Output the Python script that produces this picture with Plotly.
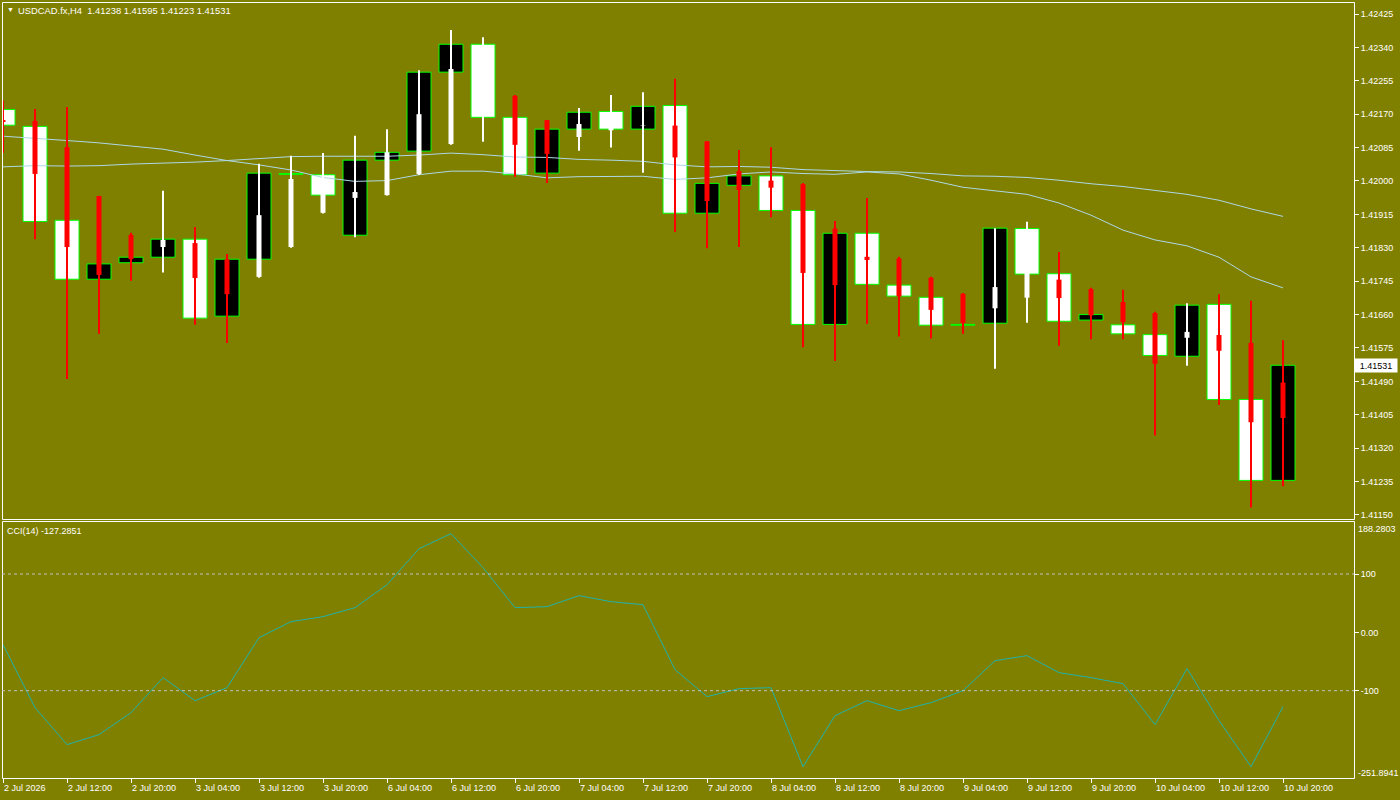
import plotly.graph_objects as go

# ---------------- data ----------------
times = ["2 Jul 04:00", "2 Jul 08:00", "2 Jul 12:00", "2 Jul 16:00", "2 Jul 20:00",
         "3 Jul 00:00", "3 Jul 04:00", "3 Jul 08:00", "3 Jul 12:00", "3 Jul 16:00",
         "3 Jul 20:00", "6 Jul 00:00", "6 Jul 04:00", "6 Jul 08:00", "6 Jul 12:00",
         "6 Jul 16:00", "6 Jul 20:00", "7 Jul 00:00", "7 Jul 04:00", "7 Jul 08:00",
         "7 Jul 12:00", "7 Jul 16:00", "7 Jul 20:00", "8 Jul 00:00", "8 Jul 04:00",
         "8 Jul 08:00", "8 Jul 12:00", "8 Jul 16:00", "8 Jul 20:00", "9 Jul 00:00",
         "9 Jul 04:00", "9 Jul 08:00", "9 Jul 12:00", "9 Jul 16:00", "9 Jul 20:00",
         "10 Jul 00:00", "10 Jul 04:00", "10 Jul 08:00", "10 Jul 12:00", "10 Jul 16:00",
         "10 Jul 20:00"]

open_ = [1.42182, 1.42139, 1.41900, 1.41750, 1.41792, 1.41806, 1.41852, 1.41656, 1.41801, 1.42018,
         1.42016, 1.41862, 1.42053, 1.42076, 1.42277, 1.42348, 1.42162, 1.42020, 1.42132, 1.42177,
         1.42132, 1.42192, 1.41918, 1.41989, 1.42013, 1.41925, 1.41635, 1.41867, 1.41735, 1.41704,
         1.41634, 1.41638, 1.41879, 1.41764, 1.41646, 1.41634, 1.41609, 1.41554, 1.41686, 1.41444,
         1.41238]
close_ = [1.42142, 1.41897, 1.41750, 1.41789, 1.41806, 1.41852, 1.41651, 1.41801, 1.42020, 1.42018,
          1.41964, 1.42053, 1.42073, 1.42277, 1.42348, 1.42162, 1.42016, 1.42132, 1.42175, 1.42132,
          1.42190, 1.41918, 1.41994, 1.42013, 1.41925, 1.41635, 1.41867, 1.41737, 1.41707, 1.41633,
          1.41634, 1.41880, 1.41763, 1.41643, 1.41660, 1.41611, 1.41556, 1.41684, 1.41444, 1.41238,
          1.41531]
wick_high = [1.42204, 1.42183, 1.42188, 1.41962, 1.41868, 1.41975, 1.41883, 1.41814, 1.42044, 1.42064,
             1.42071, 1.42115, 1.42132, 1.42282, 1.42384, 1.42366, 1.42219, 1.42155, 1.42186, 1.42219,
             1.42226, 1.42260, 1.42102, 1.42079, 1.42086, 1.41995, 1.41898, 1.41957, 1.41807, 1.41756,
             1.41715, 1.41880, 1.41896, 1.41819, 1.41728, 1.41723, 1.41667, 1.41689, 1.41712, 1.41695,
             1.41595]
wick_low = [1.42072, 1.41852, 1.41496, 1.41611, 1.41746, 1.41767, 1.41634, 1.41588, 1.41754, 1.41830,
            1.41917, 1.41857, 1.41963, 1.42015, 1.42092, 1.42100, 1.42011, 1.41995, 1.42077, 1.42085,
            1.42021, 1.41870, 1.41829, 1.41832, 1.41908, 1.41577, 1.41542, 1.41637, 1.41604, 1.41599,
            1.41611, 1.41522, 1.41639, 1.41581, 1.41597, 1.41597, 1.41352, 1.41530, 1.41430, 1.41169,
            1.41223]
ha_open = [1.42155, 1.42153, 1.42086, 1.41962, 1.41863, 1.41832, 1.41842, 1.41801, 1.41756, 1.41832,
           1.41919, 1.41957, 1.41964, 1.42018, 1.42094, 1.42190, 1.42217, 1.42155, 1.42112, 1.42129,
           1.42141, 1.42141, 1.42101, 1.42025, 1.42001, 1.41992, 1.41879, 1.41807, 1.41803, 1.41754,
           1.41713, 1.41676, 1.41703, 1.41749, 1.41725, 1.41692, 1.41664, 1.41601, 1.41608, 1.41588,
           1.41487]
ha_close = [1.42150, 1.42018, 1.41832, 1.41761, 1.41801, 1.41850, 1.41753, 1.41712, 1.41913, 1.42005,
            1.41992, 1.41972, 1.42073, 1.42170, 1.42285, 1.42244, 1.42092, 1.42069, 1.42145, 1.42153,
            1.42142, 1.42060, 1.41949, 1.41977, 1.41983, 1.41766, 1.41735, 1.41799, 1.41706, 1.41672,
            1.41639, 1.41730, 1.41794, 1.41702, 1.41658, 1.41641, 1.41535, 1.41616, 1.41568, 1.41386,
            1.41397]
ma_fast = [1.42114, 1.42109, 1.42103, 1.42097, 1.42089, 1.42081, 1.42066, 1.42052, 1.42041, 1.42028,
           1.42009, 1.41999, 1.42001, 1.42016, 1.42025, 1.42025, 1.42018, 1.42008, 1.42011, 1.42012,
           1.42012, 1.42004, 1.42008, 1.42018, 1.42023, 1.42019, 1.42017, 1.42023, 1.42018, 1.42002,
           1.41984, 1.41975, 1.41966, 1.41944, 1.41913, 1.41875, 1.41850, 1.41835, 1.41806, 1.41756,
           1.41728]
ma_slow = [1.42036, 1.42039, 1.42038, 1.42039, 1.42043, 1.42045, 1.42048, 1.42052, 1.42057, 1.42062,
           1.42063, 1.42063, 1.42063, 1.42066, 1.42071, 1.42067, 1.42061, 1.42060, 1.42055, 1.42053,
           1.42050, 1.42041, 1.42036, 1.42037, 1.42035, 1.42029, 1.42026, 1.42024, 1.42023, 1.42019,
           1.42013, 1.42012, 1.42009, 1.42002, 1.41993, 1.41986, 1.41976, 1.41966, 1.41951, 1.41929,
           1.41910]
cci = [-21.1, -129.0, -192.4, -175.3, -137.6, -77.6, -117.1, -94.8, -9.1, 18.3,
       26.9, 42.3, 81.7, 143.4, 169.1, 110.9, 42.3, 44.0, 62.9, 52.6,
       47.4, -63.9, -110.2, -96.5, -94.8, -230.2, -142.8, -117.1, -134.2, -120.5,
       -100.0, -48.6, -39.9, -69.1, -77.6, -87.9, -158.1, -62.1, -151.2, -230.2,
       -127.3]

price_ticks = [1.41150, 1.41235, 1.41320, 1.41405, 1.41490, 1.41575, 1.41660, 1.41745,
               1.41830, 1.41915, 1.42000, 1.42085, 1.42170, 1.42255, 1.42340, 1.42425]
time_tick_labels = ["2 Jul 2026", "2 Jul 12:00", "2 Jul 20:00", "3 Jul 04:00", "3 Jul 12:00",
                    "3 Jul 20:00", "6 Jul 04:00", "6 Jul 12:00", "6 Jul 20:00", "7 Jul 04:00",
                    "7 Jul 12:00", "7 Jul 20:00", "8 Jul 04:00", "8 Jul 12:00", "8 Jul 20:00",
                    "9 Jul 04:00", "9 Jul 12:00", "9 Jul 20:00", "10 Jul 04:00", "10 Jul 12:00",
                    "10 Jul 20:00"]
cci_levels = [100, -100]
symbol_label = "USDCAD.fx,H4"
cci_label = "CCI(14) -127.2851"
cci_max_label, cci_min_label = "188.2803", "-251.8941"

# ---------------- styling ----------------
W, H = 1400, 800
BG = "#808000"
FONT = "Liberation Sans"
FS = 9
X0PX, X1PX = 2, 1354
MAIN_TOP, MAIN_BOT = 2, 519
CCI_TOP, CCI_BOT = 522, 778

def fx(p):
    return p / W

def fy(p):
    return 1 - p / H

n = len(times)
xs = list(range(n))
bar_px = 32.0
x_lo = -(3 - X0PX) / bar_px
x_hi = x_lo + (X1PX - X0PX) / bar_px

fig = go.Figure()

# candle bodies
bull = [i for i in xs if close_[i] > open_[i]]
bear = [i for i in xs if close_[i] < open_[i]]
doji = [i for i in xs if close_[i] == open_[i]]
body_w = 24 / bar_px
fig.add_trace(go.Bar(x=bull, base=[open_[i] for i in bull], y=[close_[i] - open_[i] for i in bull],
                     width=body_w, marker=dict(color="#000000", line=dict(color="#00FF00", width=1)),
                     hoverinfo="skip"))
fig.add_trace(go.Bar(x=bear, base=[close_[i] for i in bear], y=[open_[i] - close_[i] for i in bear],
                     width=body_w, marker=dict(color="#FFFFFF", line=dict(color="#00FF00", width=1)),
                     hoverinfo="skip"))
fig.add_trace(go.Bar(x=doji, base=[open_[i] - 0.00001 for i in doji], y=[0.00002 for i in doji],
                     width=body_w, marker=dict(color="#00FF00", line=dict(color="#00FF00", width=1)),
                     hoverinfo="skip"))

# moving averages
fig.add_trace(go.Scatter(x=xs, y=ma_slow, mode="lines", line=dict(color="#ADD8E6", width=1), hoverinfo="skip"))
fig.add_trace(go.Scatter(x=xs, y=ma_fast, mode="lines", line=dict(color="#ADD8E6", width=1), hoverinfo="skip"))

# Heiken Ashi overlay
def segs(idx, lo, hi):
    sx, sy = [], []
    for i in idx:
        sx += [i, i, None]
        sy += [lo[i], hi[i], None]
    return sx, sy

ha_hi = [max(wick_high[i], ha_open[i], ha_close[i]) for i in xs]
ha_lo = [min(wick_low[i], ha_open[i], ha_close[i]) for i in xs]
red = [i for i in xs if ha_open[i] > ha_close[i]]
white = [i for i in xs if ha_open[i] <= ha_close[i]]
for idx, col in ((red, "#FF0000"), (white, "#FFFFFF")):
    sx, sy = segs(idx, ha_lo, ha_hi)
    fig.add_trace(go.Scatter(x=sx, y=sy, mode="lines", line=dict(color=col, width=2), hoverinfo="skip"))
    sx, sy = segs(idx, ha_open, ha_close)
    fig.add_trace(go.Scatter(x=sx, y=sy, mode="lines", line=dict(color=col, width=5), hoverinfo="skip"))

# CCI
fig.add_trace(go.Scatter(x=xs, y=cci, mode="lines", line=dict(color="#20B2AA", width=1),
                         yaxis="y2", hoverinfo="skip"))

# price axis scale: pixel 14 -> 1.42425, 2.545e-5 per pixel
k = 2.545e-5
p_top = 1.42425 + (14 - MAIN_TOP) * k
p_bot = 1.42425 - (MAIN_BOT - 14) * k
# cci scale: 100 at 574 px, -100 at 690.7 px
cpx = (690.7 - 574) / 200
c0 = 574 + 100 * cpx
c_top = (c0 - CCI_TOP) / cpx
c_bot = (c0 - CCI_BOT) / cpx

tickfont = dict(family=FONT, size=FS, color="#FFFFFF")
fig.update_layout(
    width=W, height=H, margin=dict(l=0, r=0, t=0, b=0),
    paper_bgcolor=BG, plot_bgcolor=BG, showlegend=False, barmode="overlay",
    font=dict(family=FONT, size=FS, color="#FFFFFF"),
    xaxis=dict(domain=[fx(X0PX), fx(X1PX)], range=[x_lo, x_hi], anchor="y2",
               tickmode="array", tickvals=xs[::2], ticks="outside", ticklen=4, tickcolor="#FFFFFF",
               showticklabels=False, showgrid=False, zeroline=False, showline=False, fixedrange=True),
    yaxis=dict(domain=[fy(MAIN_BOT), fy(MAIN_TOP)], range=[p_bot, p_top], side="right", anchor="x",
               tickmode="array", tickvals=price_ticks, ticktext=[f"{v:.5f}" for v in price_ticks],
               ticks="outside", ticklen=4, tickcolor="#FFFFFF", tickfont=tickfont,
               showgrid=False, zeroline=False, showline=False),
    yaxis2=dict(domain=[fy(CCI_BOT), fy(CCI_TOP)], range=[c_bot, c_top], side="right", anchor="x",
                tickmode="array", tickvals=[100, 0, -100], ticktext=["100", "0.00", "-100"],
                ticks="outside", ticklen=4, tickcolor="#FFFFFF", tickfont=tickfont,
                showgrid=False, zeroline=False, showline=False),
)

shapes = [
    dict(type="rect", xref="paper", yref="paper", x0=fx(X0PX + 0.5), x1=fx(X1PX + 0.5),
         y0=fy(MAIN_BOT + 0.5), y1=fy(MAIN_TOP + 0.5), line=dict(color="#FFFFFF", width=1)),
    dict(type="rect", xref="paper", yref="paper", x0=fx(X0PX + 0.5), x1=fx(X1PX + 0.5),
         y0=fy(CCI_BOT + 0.5), y1=fy(CCI_TOP - 0.5), line=dict(color="#FFFFFF", width=1)),
]
for lv in cci_levels:
    shapes.append(dict(type="line", xref="paper", yref="y2", x0=fx(X0PX), x1=fx(X1PX), y0=lv, y1=lv,
                       line=dict(color="#C0C0C0", width=1, dash="3px,3px")))
fig.update_layout(shapes=shapes)

ann = []
hdr = f"{symbol_label}\u00a0\u00a0{open_[-1]:.5f} {wick_high[-1]:.5f} {wick_low[-1]:.5f} {close_[-1]:.5f}"
ann.append(dict(xref="paper", yref="paper", x=fx(5), y=fy(10), text="▼", showarrow=False,
                xanchor="left", yanchor="middle", font=dict(family=FONT, size=7, color="#FFFFFF")))
ann.append(dict(xref="paper", yref="paper", x=fx(16), y=fy(10.5), text=hdr, showarrow=False,
                xanchor="left", yanchor="middle", font=dict(family=FONT, size=9.4, color="#FFFFFF")))
ann.append(dict(xref="paper", yref="paper", x=fx(5), y=fy(530.5), text=cci_label, showarrow=False,
                xanchor="left", yanchor="middle", font=dict(family=FONT, size=FS, color="#FFFFFF")))
ann.append(dict(xref="paper", yref="paper", x=fx(1356), y=fy(529), text=cci_max_label, showarrow=False,
                xanchor="left", yanchor="middle", font=dict(family=FONT, size=FS, color="#FFFFFF")))
ann.append(dict(xref="paper", yref="paper", x=fx(1356), y=fy(773), text=cci_min_label, showarrow=False,
                xanchor="left", yanchor="middle", font=dict(family=FONT, size=FS, color="#FFFFFF")))
ann.append(dict(xref="paper", yref="y", x=fx(1354), y=close_[-1], text=f"{close_[-1]:.5f}", showarrow=False,
                xanchor="left", yanchor="middle", bgcolor="#FFFFFF", borderpad=1, width=40, height=11,
                align="center", font=dict(family=FONT, size=FS, color="#000000")))
for j, lab in enumerate(time_tick_labels):
    ann.append(dict(xref="x", yref="paper", x=xs[2 * j], y=fy(788), text=lab, showarrow=False,
                    xanchor="left", yanchor="middle", xshift=-1,
                    font=dict(family=FONT, size=FS, color="#FFFFFF")))
fig.update_layout(annotations=ann)

fig.write_html("out.html")
